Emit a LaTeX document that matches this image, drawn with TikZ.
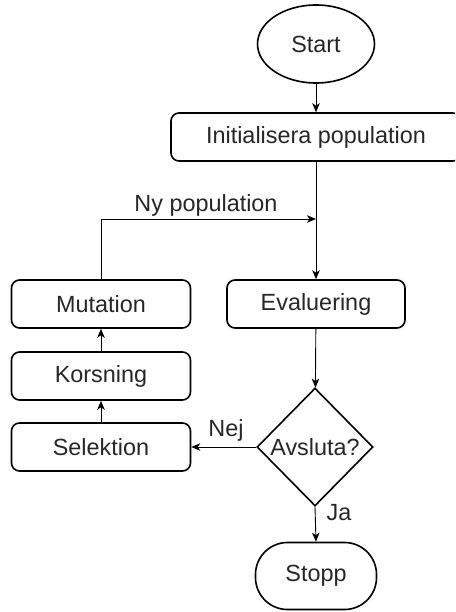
\documentclass[tikz,border=0pt]{standalone}
\usepackage{fontspec}
\setmainfont{Liberation Sans}
\usetikzlibrary{shapes.geometric,arrows.meta}
\begin{document}
\begin{tikzpicture}[x=1pt,y=-1pt,
  every node/.style={font=\fontsize{23.4}{28}\selectfont, text=black!85},
  proc/.style={draw, line width=1.6pt, rounded corners=8pt, minimum height=48pt, inner sep=0pt},
  term/.style={draw, line width=1.6pt, ellipse, minimum width=117pt, minimum height=78pt, inner sep=0pt},
  stopbox/.style={draw, line width=1.6pt, rounded corners=32pt, minimum width=121pt, minimum height=67pt, inner sep=0pt},
  decision/.style={draw, line width=1.6pt, diamond, minimum width=116pt, minimum height=118pt, inner sep=0pt},
  flow/.style={line width=0.9pt, -{Stealth[length=9pt,width=7.5pt,inset=2.5pt]}},
  lab/.style={inner sep=0pt}]
  \useasboundingbox (0,0) rectangle (455,612);
  \begin{scope}
  \clip (0,0) rectangle (455,612);
  \node[term] (start) at (316,44) {Start};
  \node[proc, minimum width=290pt] (init) at (316,137) {Initialisera population};
  \node[proc, minimum width=178pt] (eval) at (316,304) {Evaluering};
  \node[proc, minimum width=179pt] (mut) at (101,304) {Mutation};
  \node[proc, minimum width=179pt] (kors) at (101,376) {Korsning};
  \node[proc, minimum width=179pt] (sel) at (101,447) {Selektion};
  \node[decision] (dec) at (315,447) {Avsluta?};
  \node[stopbox] (stopp) at (316,576) {Stopp};
  \coordinate (join) at (316,219);

  \draw[flow] (start) -- (init);
  \draw[flow] (init.south) -- (eval.north);
  \draw[flow] (mut.north) |- (join);
  \draw[flow] (eval) -- (dec);
  \draw[flow] (dec.west) -- (sel.east);
  \draw[flow] (sel) -- (kors);
  \draw[flow] (kors) -- (mut);
  \draw[flow] (dec.south) -- (stopp.north);

  \node[lab] (nylab) at (206,205) {Ny population};
  \node[lab] (nejlab) at (226,430) {Nej};
  \node[lab] (jalab) at (339,513) {Ja};
  \end{scope}
\end{tikzpicture}
\end{document}
